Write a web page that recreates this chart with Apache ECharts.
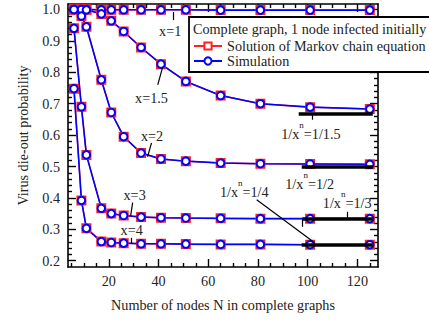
<!DOCTYPE html>
<html>
<head>
<meta charset="utf-8">
<script src="https://cdn.jsdelivr.net/npm/echarts@6/dist/echarts.min.js"></script>
<style>
  html, body { margin: 0; padding: 0; background: #fff; }
  #chart { width: 429px; height: 322px; }
</style>
</head>
<body>
<div id="chart"></div>
<script>
// number of nodes N
var nodes = [6, 9, 11, 17, 21, 26, 33, 41, 51, 65, 81, 101, 125];
// die-out probability (markov solution and simulation overlap)
var probX1 = [1.0, 1.0, 1.0, 0.999, 0.999, 0.999, 0.999, 0.999, 0.999, 0.998, 0.998, 0.998, 0.998];
var probX15 = [1.0, 1.0, 0.999, 0.986, 0.964, 0.930, 0.879, 0.826, 0.771, 0.726, 0.700, 0.689, 0.683];
var probX2 = [1.0, 0.979, 0.945, 0.776, 0.672, 0.595, 0.543, 0.524, 0.517, 0.511, 0.509, 0.508, 0.507];
var probX3 = [0.940, 0.690, 0.537, 0.367, 0.350, 0.344, 0.339, 0.337, 0.336, 0.335, 0.334, 0.334, 0.334];
var probX4 = [0.748, 0.392, 0.303, 0.261, 0.258, 0.256, 0.254, 0.254, 0.253, 0.252, 0.252, 0.251, 0.251];
var curves = [probX1, probX15, probX2, probX3, probX4];

var xTicks = [20, 40, 60, 80, 100, 120];
var xMinorTicks = [5, 10, 15, 25, 30, 35, 45, 50, 55, 65, 70, 75, 85, 90, 95, 105, 110, 115, 125];
var yTicks = [0.2, 0.3, 0.4, 0.5, 0.6, 0.7, 0.8, 0.9, 1.0];
var yMinorTicks = [];
for (var k = 0; k < 40; k++) {
  if (k % 5 !== 0) yMinorTicks.push(+(0.2 + k * 0.02).toFixed(2));
}

var serif = "Liberation Serif";
var txt = { fontFamily: serif, fontSize: 14.2, color: "#222" };

function xAxisDef(pos, ticks, len, labels) {
  return {
    type: "value", min: 3.6, max: 128.3, position: pos,
    axisLine: { show: len > 5, onZero: false, lineStyle: { color: "#000", width: 1.6 } },
    axisTick: { inside: true, length: len, customValues: ticks, lineStyle: { color: "#000", width: 1.4 } },
    axisLabel: labels ? Object.assign({ customValues: ticks, margin: 7 }, txt) : { show: false },
    splitLine: { show: false }
  };
}
function yAxisDef(pos, ticks, len, labels) {
  return {
    type: "value", min: 0.18, max: 1.0175, position: pos,
    axisLine: { show: len > 5, onZero: false, lineStyle: { color: "#000", width: 1.6 } },
    axisTick: { inside: true, length: len, customValues: ticks, lineStyle: { color: "#000", width: 1.4 } },
    axisLabel: labels ? Object.assign({ customValues: ticks, margin: 8, formatter: function (v) { return v.toFixed(1); } }, txt) : { show: false },
    splitLine: { show: false }
  };
}

var xAxes = [
  xAxisDef("bottom", xTicks, 8, true),
  xAxisDef("bottom", xMinorTicks, 4, false),
  xAxisDef("top", xTicks, 8, false),
  xAxisDef("top", xMinorTicks, 4, false)
];
xAxes[0].name = "Number of nodes N in complete graphs";
xAxes[0].nameLocation = "middle";
xAxes[0].nameGap = 31;
xAxes[0].nameTextStyle = txt;

var yAxes = [
  yAxisDef("left", yTicks, 8, true),
  yAxisDef("left", yMinorTicks, 4, false),
  yAxisDef("right", yTicks, 8, false),
  yAxisDef("right", yMinorTicks, 4, false)
];
yAxes[0].name = "Virus die-out probability";
yAxes[0].nameLocation = "middle";
yAxes[0].nameGap = 38;
yAxes[0].nameTextStyle = txt;

function pairs(arr) {
  return nodes.map(function (n, i) { return [n, arr[i]]; });
}

var series = [];
curves.forEach(function (c) {
  series.push({
    name: "Solution of Markov chain equation", type: "line", data: pairs(c),
    symbol: "emptyRect", symbolSize: 8,
    itemStyle: { color: "#f22", borderWidth: 1.2 },
    lineStyle: { color: "#f22", width: 1.4 }
  });
});
curves.forEach(function (c) {
  series.push({
    name: "Simulation", type: "line", data: pairs(c),
    symbol: "emptyCircle", symbolSize: 7.5,
    itemStyle: { color: "#00f", borderWidth: 1.4 },
    lineStyle: { color: "#00f", width: 1.6 }
  });
});

// annotations
var sup = {
  a: { fontFamily: serif, fontSize: 14.2, color: "#222" },
  s: { fontFamily: serif, fontSize: 9, color: "#222", padding: [0, 0, 17, 0] }
};
function note(n, v, text) {
  return { coord: [n, v], label: { formatter: text } };
}
function seg(n1, v1, n2, v2, w) {
  return [{ coord: [n1, v1], lineStyle: { width: w } }, { coord: [n2, v2] }];
}
series.push({
  name: "notes", type: "line", data: [], silent: true,
  markLine: {
    symbol: ["none", "none"], silent: true, animation: false,
    label: { show: false },
    lineStyle: { color: "#000", type: "solid", width: 1.2 },
    data: [
      seg(46.1, 0.992, 46.1, 0.966, 1.2),
      seg(39.7, 0.760, 41.7, 0.817, 1.2),
      seg(35.6, 0.531, 37.2, 0.575, 1.2),
      seg(28.8, 0.343, 29.6, 0.385, 1.2),
      seg(29.2, 0.273, 29.2, 0.255, 1.2),
      seg(101.7, 0.667, 101.7, 0.649, 1.2),
      seg(116.1, 0.356, 116.1, 0.333, 1.2),
      seg(98, 0.333, 98, 0.308, 1.2),
      seg(79.5, 0.394, 102.8, 0.257, 1.2),
      seg(96.4, 1 / 1.5, 126.2, 1 / 1.5, 3.6),
      seg(97.6, 0.5, 126.2, 0.5, 3.6),
      seg(97.9, 1 / 3, 126.2, 1 / 3, 3.6),
      seg(97.6, 0.25, 126.2, 0.25, 3.6)
    ]
  },
  markPoint: {
    symbol: "rect", symbolSize: 1, silent: true, animation: false,
    itemStyle: { color: "rgba(0,0,0,0)" },
    label: { show: true, position: "inside", fontFamily: serif, fontSize: 14.2, color: "#222", rich: sup },
    data: [
      note(44.7, 0.932, "x=1"),
      note(37.2, 0.719, "x=1.5"),
      note(37.4, 0.598, "x=2"),
      note(30.4, 0.410, "x=3"),
      note(29.2, 0.299, "x=4"),
      note(101.3, 0.604, "{a|1/x}{s|n}{a|=1/1.5}"),
      note(100.8, 0.445, "{a|1/x}{s|n}{a|=1/2}"),
      note(115.9, 0.385, "{a|1/x}{s|n}{a|=1/3}"),
      note(74.5, 0.420, "{a|1/x}{s|n}{a|=1/4}")
    ]
  }
});

var chart = echarts.init(document.getElementById("chart"), null, { renderer: "svg" });
chart.setOption({
  animation: false,
  backgroundColor: "#fff",
  title: {
    text: "Complete graph, 1 node infected initially",
    left: 193, top: 22, padding: 0,
    textStyle: { fontFamily: serif, fontSize: 14.2, fontWeight: "normal", color: "#222" }
  },
  legend: {
    data: ["Solution of Markov chain equation", "Simulation"],
    orient: "vertical", left: 189, top: 17,
    padding: [22, 10, 4, 4],
    itemWidth: 28, itemHeight: 9, itemGap: 1,
    borderColor: "#000", borderWidth: 1.8, backgroundColor: "#fff",
    textStyle: Object.assign({ lineHeight: 14 }, txt)
  },
  grid: { left: 68, right: 51, top: 4, bottom: 55, containLabel: false, outerBoundsMode: "none" },
  xAxis: xAxes,
  yAxis: yAxes,
  series: series
});
window.addEventListener("resize", function () { chart.resize(); });
</script>
</body>
</html>
